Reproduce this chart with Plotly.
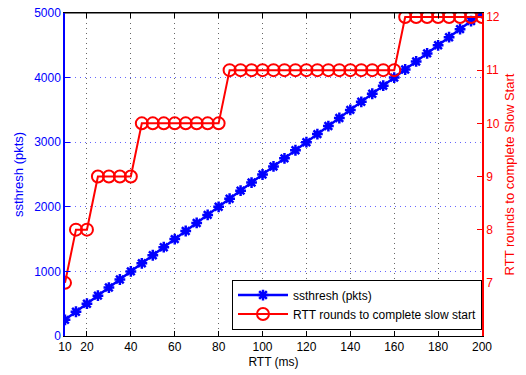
import plotly.graph_objects as go

rtt = [10, 15, 20, 25, 30, 35, 40, 45, 50, 55, 60, 65, 70, 75, 80, 85, 90, 95, 100,
       105, 110, 115, 120, 125, 130, 135, 140, 145, 150, 155, 160, 165, 170, 175, 180,
       185, 190, 195, 200]
ssthresh = [250, 375, 500, 625, 750, 875, 1000, 1125, 1250, 1375, 1500, 1625, 1750,
            1875, 2000, 2125, 2250, 2375, 2500, 2625, 2750, 2875, 3000, 3125, 3250,
            3375, 3500, 3625, 3750, 3875, 4000, 4125, 4250, 4375, 4500, 4625, 4750,
            4875, 5000]
rounds = [7, 8, 8, 9, 9, 9, 9, 10, 10, 10, 10, 10, 10, 10, 10, 11, 11, 11, 11,
          11, 11, 11, 11, 11, 11, 11, 11, 11, 11, 11, 11, 12, 12, 12, 12,
          12, 12, 12, 12]
xticks = [10, 20, 40, 60, 80, 100, 120, 140, 160, 180, 200]
left_ticks = [0, 1000, 2000, 3000, 4000, 5000]
right_ticks = [7, 8, 9, 10, 11, 12]

BLUE = "#0000ff"
RED = "#ff0000"
FONT = "Liberation Sans, Arial, sans-serif"

fig = go.Figure()
fig.add_trace(go.Scatter(
    x=rtt, y=ssthresh, name="ssthresh (pkts)", mode="lines+markers",
    line=dict(color=BLUE, width=2.5),
    marker=dict(symbol="asterisk-open", size=9, color=BLUE,
                line=dict(color=BLUE, width=2.5)),
    yaxis="y"))
fig.add_trace(go.Scatter(
    x=rtt, y=rounds, name="RTT rounds to complete slow start", mode="lines+markers",
    line=dict(color=RED, width=2),
    marker=dict(symbol="circle-open", size=12, color=RED,
                line=dict(color=RED, width=2)),
    yaxis="y2"))

fig.update_layout(
    width=526, height=375,
    margin=dict(l=65, r=44, t=13, b=39, autoexpand=False),
    paper_bgcolor="white", plot_bgcolor="white",
    font=dict(family=FONT, size=12, color="black"),
    showlegend=True,
    legend=dict(x=1, xanchor="right", y=0.02, yanchor="bottom",
                bgcolor="white", bordercolor="black", borderwidth=1,
                font=dict(size=12), tracegroupgap=0, itemwidth=50),
    xaxis=dict(range=[10, 200], tickvals=xticks, ticks="inside", ticklen=5,
               tickcolor="black", showline=True, linecolor="black", linewidth=1,
               mirror="ticks", showgrid=True, gridcolor="#666666",
               griddash="1px,4px", gridwidth=1, zeroline=False, automargin=False,
               title=dict(text="RTT (ms)", font=dict(size=12), standoff=4),
               tickfont=dict(size=12)),
    yaxis=dict(range=[0, 5000], tickvals=left_ticks, ticks="inside", ticklen=5,
               tickcolor=BLUE, showline=True, linecolor=BLUE, linewidth=1.5,
               showgrid=True, gridcolor="#6666ff", griddash="1px,4px", gridwidth=1,
               zeroline=False, automargin=False, tickfont=dict(color=BLUE, size=12),
               title=dict(text="ssthresh (pkts)", font=dict(color=BLUE, size=13),
                          standoff=8)),
    yaxis2=dict(range=[6, 12.075], tickvals=right_ticks, overlaying="y", side="right",
                ticks="inside", ticklen=5, tickcolor=RED, showline=True,
                linecolor=RED, linewidth=1.5, showgrid=False, zeroline=False,
                automargin=False, tickfont=dict(color=RED, size=12),
                title=dict(text="RTT rounds to complete Slow Start",
                           font=dict(color=RED, size=13), standoff=6)),
)
# top border
fig.add_shape(type="line", xref="paper", yref="paper", x0=0, x1=1, y0=1, y1=1,
              line=dict(color="black", width=1))

fig.write_html("out.html")
